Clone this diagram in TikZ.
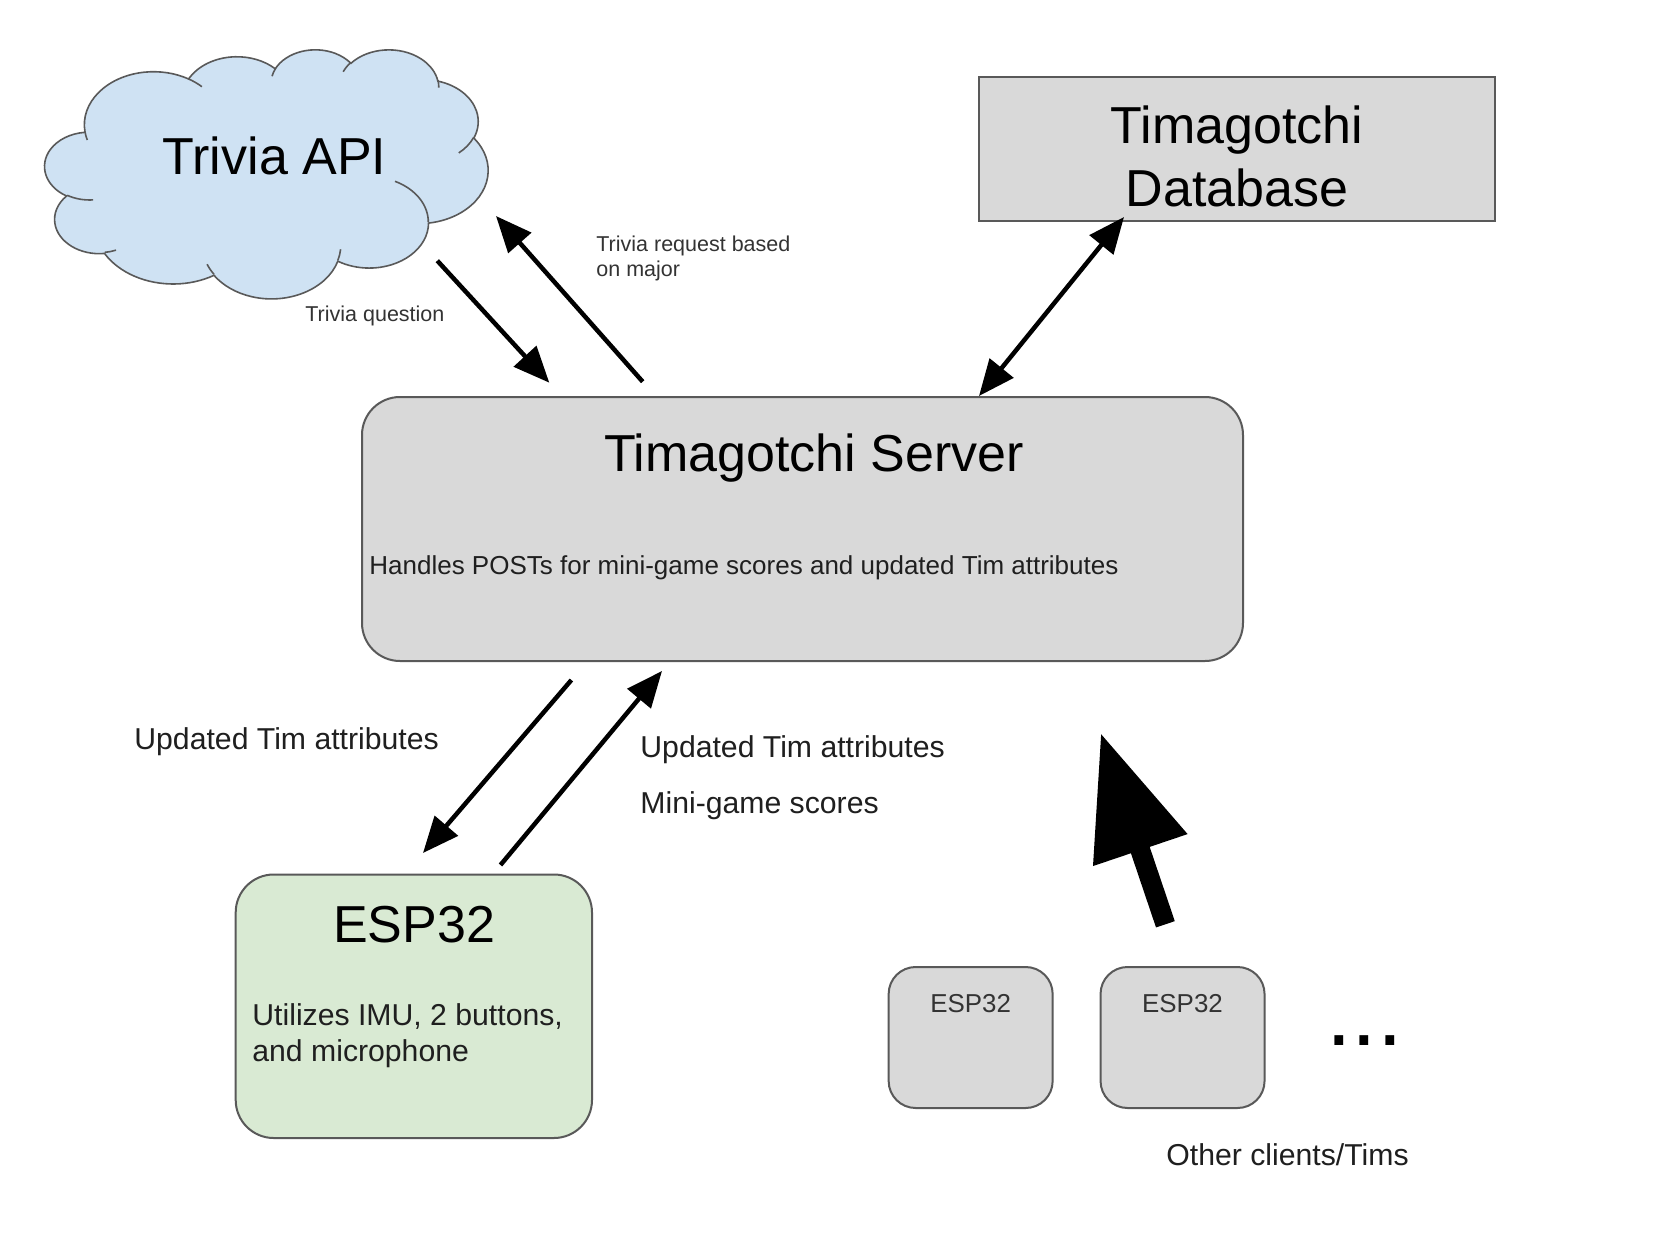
\documentclass[tikz,border=0pt]{standalone}
\usepackage{fontspec}
\setmainfont{Liberation Sans}
\usetikzlibrary{arrows.meta}
\definecolor{cloudfill}{HTML}{CFE2F3}
\definecolor{boxgray}{HTML}{D9D9D9}
\definecolor{boxgreen}{HTML}{D9EAD3}
\definecolor{edgegray}{HTML}{595959}
\definecolor{txtdark}{HTML}{1F1F1F}
\definecolor{txtsmall}{HTML}{333333}
% OOXML-style elliptical arc: wR hR stAng swAng (visual angles, degrees)
\newcommand\cloudarcdef[4]{%
  \pgfmathparse{atan2((#1)*sin(#3),(#2)*cos(#3))}\global\let\cArcS\pgfmathresult
  \pgfmathparse{atan2((#1)*sin((#3)+(#4)),(#2)*cos((#3)+(#4)))}\global\let\cArcE\pgfmathresult
  \pgfmathparse{\cArcE-\cArcS}\global\let\cArcT\pgfmathresult
  \pgfmathparse{ifthenelse(#4>0,ifthenelse(\cArcT<0,\cArcT+360,\cArcT),ifthenelse(\cArcT>0,\cArcT-360,\cArcT))}\global\let\cArcD\pgfmathresult}
\tikzset{
  carc/.style n args={4}{insert path={\pgfextra{\cloudarcdef{#1}{#2}{#3}{#4}} arc[start angle=\cArcS, delta angle=\cArcD, x radius=#1, y radius=#2]}},
  boxnode/.style={draw=edgegray, line width=1pt, inner sep=0pt},
  titletext/.style={font=\fontsize{26}{31}\selectfont, text=black, inner sep=0pt},
  esptext/.style={font=\fontsize{12.95}{15}\selectfont, text=txtsmall, inner sep=0pt},
  midtext/.style={font=\fontsize{13}{15}\selectfont, text=txtdark, inner sep=0pt},
  lbltext/.style={font=\fontsize{15.1}{17.75}\selectfont, text=txtdark, inner sep=0pt},
  smalltext/.style={font=\fontsize{10.75}{12.5}\selectfont, text=txtsmall, inner sep=0pt},
  dotstext/.style={font=\fontsize{46}{50}\selectfont, text=black, inner sep=0pt},
  flow/.style={line width=2.25pt, -{Triangle[length=18pt,width=15pt]}},
  bothflow/.style={line width=2.25pt, {Triangle[length=18pt,width=15pt]}-{Triangle[length=18pt,width=15pt]}},
  bigflow/.style={line width=9.9pt, -{Triangle[length=62pt,width=47pt]}},
}
\begin{document}
\begin{tikzpicture}[x=0.5pt,y=-0.5pt]
\fill[white] (0,0) rectangle (1662,1254);
\useasboundingbox (0,0) rectangle (1662,1254);

% ---------- cloud (Trivia API) ----------
\begin{scope}[shift={(45,49)}, xscale=443/432, yscale=249/432]
  \draw[fill=cloudfill, draw=edgegray, line width=0.8pt]
    (39,143.7)
    [carc={67.53}{91.90}{-190.4875}{123.7805}]
    [carc={53.33}{72.67}{-144.1024}{89.9452}]
    [carc={43.65}{59.45}{-145.8079}{99.7230}]
    [carc={48.57}{65.95}{-130.9861}{117.2417}]
    [carc={53.33}{72.73}{-78.7089}{109.0269}]
    [carc={67.75}{92.20}{-46.2673}{130.2690}]
    [carc={57.85}{78.67}{0.6250}{114.0333}]
    [carc={67.52}{92.15}{22.4516}{115.1726}]
    [carc={77.20}{105.43}{66.2426}{75.7110}]
    [carc={43.60}{59.51}{-274.9421}{146.7356}]
    [carc={43.45}{59.45}{-246.8285}{152.5189}]
    -- cycle;
  \draw[draw=edgegray, line width=0.8pt]
    (46.93,261.77) [carc={43.45}{59.45}{86.7420}{26.4295}]
    (69.28,348.99) [carc={43.60}{59.51}{73.6105}{11.4475}]
    (164.78,390.90) [carc={67.52}{92.15}{137.6242}{14.0811}]
    (288.27,347.51) [carc={67.52}{92.15}{6.4533}{15.9984}]
    (341.29,229.54) [carc={57.85}{78.67}{-70.2924}{70.9174}]
    (417.98,153.54) [carc={53.33}{72.73}{30.3180}{27.7515}]
    (383.24,54.26) [carc={48.57}{65.95}{-13.7443}{14.8589}]
    (290.78,39.52) [carc={48.57}{65.95}{-149.1815}{18.1954}]
    (221.41,47.20) [carc={43.65}{59.45}{-163.4943}{17.6864}]
    (140.00,51.92) [carc={67.53}{91.90}{-66.7070}{12.3194}]
    (41.27,157.89) [carc={67.53}{91.90}{157.6544}{11.8582}];
\end{scope}
\node[titletext, anchor=base] (api) at (274.5,174) {Trivia API};

% ---------- boxes ----------
\node[boxnode, fill=boxgray, minimum width=258pt, minimum height=72pt] (db) at (1237,149) {};
\node[titletext, anchor=base] (dbA) at (1237,143.5) {Timagotchi};
\node[titletext, anchor=base] (dbB) at (1237,206) {Database};

\node[boxnode, fill=boxgray, rounded corners=19pt, minimum width=440.5pt, minimum height=132pt] (server) at (802.5,529) {};
\node[titletext, anchor=base] (serverT) at (814,471) {Timagotchi Server};
\node[midtext, anchor=base west] (handles) at (369,574) {Handles POSTs for mini-game scores and updated Tim attributes};

\node[boxnode, fill=boxgreen, rounded corners=19pt, minimum width=178.15pt, minimum height=131.75pt] (esp) at (413.85,1006.25) {};
\node[titletext, anchor=base] (espT) at (414,942) {ESP32};
\node[lbltext, anchor=base west] (util1) at (252,1025.4) {Utilizes IMU, 2 buttons,};
\node[lbltext, anchor=base west] (util2) at (252,1061) {and microphone};

\node[boxnode, fill=boxgray, rounded corners=13.5pt, minimum width=82pt, minimum height=70.5pt] (espA) at (970.65,1037.5) {};
\node[esptext, anchor=base] (espAT) at (970.6,1012) {ESP32};
\node[boxnode, fill=boxgray, rounded corners=13.5pt, minimum width=82pt, minimum height=70.5pt] (espB) at (1182.55,1037.5) {};
\node[esptext, anchor=base] (espBT) at (1182.5,1012) {ESP32};
\node[dotstext, anchor=base west] (dots) at (1326,1045) {...};
\node[lbltext, anchor=base west] (others) at (1166,1165) {Other clients/Tims};

% ---------- labels ----------
\node[smalltext, anchor=base west] (tq) at (305,321) {Trivia question};
\node[smalltext, anchor=base west] (tr1) at (596,251) {Trivia request based};
\node[smalltext, anchor=base west] (tr2) at (596,276) {on major};
\node[lbltext, anchor=base west] (upd1) at (134,749) {Updated Tim attributes};
\node[lbltext, anchor=base west] (upd2) at (640,757.7) {Updated Tim attributes};
\node[lbltext, anchor=base west] (mgs) at (640,813.5) {Mini-game scores};

% ---------- connector end points ----------
\coordinate (qS) at (437.3,260.7);
\coordinate (qE) at (549.3,382.7);
\coordinate (rS) at (642.7,381.7);
\coordinate (rE) at (496,216);
\coordinate (dbS) at (979,396);
\coordinate (dbE) at (1124,217);
\coordinate (aS) at (571.4,680);
\coordinate (aE) at (423,853);
\coordinate (bS) at (500.5,865);
\coordinate (bE) at (662,671);
\coordinate (cS) at (1165.4,924.3);
\coordinate (cE) at (1100.6,732.6);

\draw[flow] (qS) -- (qE);
\draw[flow] (rS) -- (rE);
\draw[bothflow] (dbS) -- (dbE);
\draw[flow] (aS) -- (aE);
\draw[flow] (bS) -- (bE);
\draw[bigflow] (cS) -- (cE);
\end{tikzpicture}
\end{document}
